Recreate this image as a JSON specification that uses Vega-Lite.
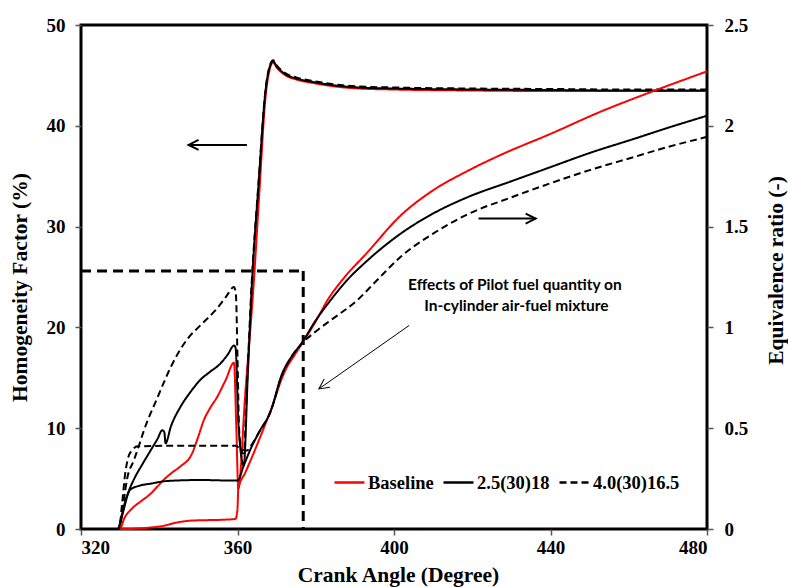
{
  "$schema": "https://vega.github.io/schema/vega-lite/v6.json",
  "width": 626,
  "height": 504,
  "autosize": {"type": "none"},
  "padding": {"left": 81, "top": 25, "right": 81, "bottom": 58},
  "background": "white",
  "config": {
    "view": {"stroke": "black", "strokeWidth": 3},
    "axis": {
      "grid": false, "domain": false,
      "labelFont": "Liberation Serif", "labelFontWeight": "bold", "labelFontSize": 19, "labelColor": "black",
      "titleFont": "Liberation Serif", "titleFontWeight": "bold", "titleFontSize": 21.5, "titleColor": "black",
      "tickColor": "#555", "tickSize": 6, "tickWidth": 1.5
    },
    "legend": {
      "orient": "none", "legendX": 252, "legendY": 441, "direction": "horizontal",
      "symbolType": "stroke", "symbolSize": 900, "symbolStrokeWidth": 2.5,
      "labelFont": "Liberation Serif", "labelFontWeight": "bold", "labelFontSize": 18.5, "labelColor": "black",
      "labelOffset": 2, "columnPadding": 4, "padding": 0
    }
  },
  "datasets": {
    "homog": [
      {"case":"Baseline","angle":320,"value":0},{"case":"Baseline","angle":329.5,"value":0},{"case":"Baseline","angle":330.1,"value":0.1},{"case":"Baseline","angle":331,"value":1},{"case":"Baseline","angle":333.1,"value":2.05},{"case":"Baseline","angle":335.5,"value":2.8},{"case":"Baseline","angle":337.8,"value":3.5},{"case":"Baseline","angle":339.5,"value":4.2},{"case":"Baseline","angle":341.2,"value":4.9},{"case":"Baseline","angle":343.3,"value":5.6},{"case":"Baseline","angle":345.4,"value":6.2},{"case":"Baseline","angle":348.4,"value":7.5},{"case":"Baseline","angle":350,"value":9.2},{"case":"Baseline","angle":351.4,"value":10.8},{"case":"Baseline","angle":353,"value":12},{"case":"Baseline","angle":354.8,"value":13.1},{"case":"Baseline","angle":357,"value":14.8},{"case":"Baseline","angle":359.1,"value":16.5},{"case":"Baseline","angle":359.7,"value":10},{"case":"Baseline","angle":360.2,"value":4.0},{"case":"Baseline","angle":362,"value":13.5},{"case":"Baseline","angle":364.2,"value":24.7},{"case":"Baseline","angle":365.6,"value":33.5},{"case":"Baseline","angle":367.2,"value":43},{"case":"Baseline","angle":368,"value":45.2},{"case":"Baseline","angle":369.1,"value":46.3},{"case":"Baseline","angle":370,"value":45.8},{"case":"Baseline","angle":372.3,"value":45.0},{"case":"Baseline","angle":375,"value":44.6},{"case":"Baseline","angle":380,"value":44.2},{"case":"Baseline","angle":385,"value":43.9},{"case":"Baseline","angle":391,"value":43.7},{"case":"Baseline","angle":400,"value":43.6},{"case":"Baseline","angle":420,"value":43.5},{"case":"Baseline","angle":440,"value":43.45},{"case":"Baseline","angle":460,"value":43.45},{"case":"Baseline","angle":480,"value":43.45},
      {"case":"2.5(30)18","angle":320,"value":0},{"case":"2.5(30)18","angle":329.4,"value":0},{"case":"2.5(30)18","angle":330.3,"value":1},{"case":"2.5(30)18","angle":330.9,"value":1.9},{"case":"2.5(30)18","angle":332,"value":3.5},{"case":"2.5(30)18","angle":333.5,"value":4.9},{"case":"2.5(30)18","angle":335.5,"value":6.3},{"case":"2.5(30)18","angle":337.8,"value":7.8},{"case":"2.5(30)18","angle":339.5,"value":8.9},{"case":"2.5(30)18","angle":340.8,"value":9.8},{"case":"2.5(30)18","angle":341.3,"value":9.6},{"case":"2.5(30)18","angle":341.6,"value":8.5},{"case":"2.5(30)18","angle":343,"value":10.2},{"case":"2.5(30)18","angle":345.4,"value":12.1},{"case":"2.5(30)18","angle":348,"value":13.6},{"case":"2.5(30)18","angle":350.5,"value":14.8},{"case":"2.5(30)18","angle":353,"value":15.6},{"case":"2.5(30)18","angle":355.6,"value":16.4},{"case":"2.5(30)18","angle":357.5,"value":17.3},{"case":"2.5(30)18","angle":359.1,"value":18.2},{"case":"2.5(30)18","angle":359.5,"value":18.0},{"case":"2.5(30)18","angle":360.3,"value":10},{"case":"2.5(30)18","angle":361.6,"value":6.3},{"case":"2.5(30)18","angle":362.6,"value":15},{"case":"2.5(30)18","angle":363.6,"value":23.7},{"case":"2.5(30)18","angle":365.4,"value":34.3},{"case":"2.5(30)18","angle":367.2,"value":43.6},{"case":"2.5(30)18","angle":368,"value":45.5},{"case":"2.5(30)18","angle":369.1,"value":46.4},{"case":"2.5(30)18","angle":370,"value":45.9},{"case":"2.5(30)18","angle":372.3,"value":45.1},{"case":"2.5(30)18","angle":375,"value":44.7},{"case":"2.5(30)18","angle":380,"value":44.3},{"case":"2.5(30)18","angle":385,"value":44},{"case":"2.5(30)18","angle":391,"value":43.8},{"case":"2.5(30)18","angle":400,"value":43.7},{"case":"2.5(30)18","angle":420,"value":43.6},{"case":"2.5(30)18","angle":440,"value":43.55},{"case":"2.5(30)18","angle":460,"value":43.5},{"case":"2.5(30)18","angle":480,"value":43.5},
      {"case":"4.0(30)16.5","angle":320,"value":0},{"case":"4.0(30)16.5","angle":329.5,"value":0},{"case":"4.0(30)16.5","angle":330.3,"value":1},{"case":"4.0(30)16.5","angle":331,"value":3},{"case":"4.0(30)16.5","angle":331.8,"value":5},{"case":"4.0(30)16.5","angle":333.5,"value":6.8},{"case":"4.0(30)16.5","angle":335,"value":8.5},{"case":"4.0(30)16.5","angle":336.1,"value":9.8},{"case":"4.0(30)16.5","angle":339.5,"value":13},{"case":"4.0(30)16.5","angle":343.5,"value":16.5},{"case":"4.0(30)16.5","angle":347.1,"value":18.8},{"case":"4.0(30)16.5","angle":350.5,"value":20.2},{"case":"4.0(30)16.5","angle":354.8,"value":21.9},{"case":"4.0(30)16.5","angle":357,"value":23},{"case":"4.0(30)16.5","angle":359.1,"value":24},{"case":"4.0(30)16.5","angle":359.6,"value":23.2},{"case":"4.0(30)16.5","angle":360,"value":17},{"case":"4.0(30)16.5","angle":360.4,"value":10},{"case":"4.0(30)16.5","angle":361,"value":7.8},{"case":"4.0(30)16.5","angle":361.6,"value":7.5},{"case":"4.0(30)16.5","angle":362.5,"value":15},{"case":"4.0(30)16.5","angle":363.5,"value":23.5},{"case":"4.0(30)16.5","angle":365.4,"value":34.5},{"case":"4.0(30)16.5","angle":367.2,"value":43.7},{"case":"4.0(30)16.5","angle":368,"value":45.6},{"case":"4.0(30)16.5","angle":369.1,"value":46.5},{"case":"4.0(30)16.5","angle":370,"value":46},{"case":"4.0(30)16.5","angle":372.3,"value":45.2},{"case":"4.0(30)16.5","angle":375,"value":44.8},{"case":"4.0(30)16.5","angle":380,"value":44.4},{"case":"4.0(30)16.5","angle":385,"value":44.1},{"case":"4.0(30)16.5","angle":391,"value":43.9},{"case":"4.0(30)16.5","angle":400,"value":43.8},{"case":"4.0(30)16.5","angle":420,"value":43.7},{"case":"4.0(30)16.5","angle":440,"value":43.65},{"case":"4.0(30)16.5","angle":460,"value":43.6},{"case":"4.0(30)16.5","angle":480,"value":43.6}
    ],
    "equiv": [
      {"case":"Baseline","angle":320,"value":0},{"case":"Baseline","angle":329.5,"value":0},{"case":"Baseline","angle":332,"value":0},{"case":"Baseline","angle":335,"value":0.003},{"case":"Baseline","angle":338,"value":0.008},{"case":"Baseline","angle":340.3,"value":0.013},{"case":"Baseline","angle":342,"value":0.02},{"case":"Baseline","angle":344,"value":0.03},{"case":"Baseline","angle":347.1,"value":0.04},{"case":"Baseline","angle":350,"value":0.043},{"case":"Baseline","angle":355,"value":0.045},{"case":"Baseline","angle":359.5,"value":0.05},{"case":"Baseline","angle":360,"value":0.1},{"case":"Baseline","angle":360.2,"value":0.2},{"case":"Baseline","angle":362,"value":0.28},{"case":"Baseline","angle":364,"value":0.37},{"case":"Baseline","angle":367.2,"value":0.525},{"case":"Baseline","angle":369,"value":0.615},{"case":"Baseline","angle":371,"value":0.73},{"case":"Baseline","angle":372.3,"value":0.79},{"case":"Baseline","angle":374.5,"value":0.86},{"case":"Baseline","angle":376.5,"value":0.92},{"case":"Baseline","angle":380,"value":1.03},{"case":"Baseline","angle":383,"value":1.135},{"case":"Baseline","angle":387.2,"value":1.245},{"case":"Baseline","angle":393.1,"value":1.37},{"case":"Baseline","angle":401.7,"value":1.555},{"case":"Baseline","angle":410,"value":1.68},{"case":"Baseline","angle":418.7,"value":1.775},{"case":"Baseline","angle":427.2,"value":1.855},{"case":"Baseline","angle":440,"value":1.96},{"case":"Baseline","angle":452.8,"value":2.07},{"case":"Baseline","angle":466,"value":2.17},{"case":"Baseline","angle":480,"value":2.27},
      {"case":"2.5(30)18","angle":320,"value":0},{"case":"2.5(30)18","angle":329.4,"value":0},{"case":"2.5(30)18","angle":330.5,"value":0.075},{"case":"2.5(30)18","angle":331.5,"value":0.15},{"case":"2.5(30)18","angle":332.6,"value":0.195},{"case":"2.5(30)18","angle":335,"value":0.215},{"case":"2.5(30)18","angle":337.8,"value":0.225},{"case":"2.5(30)18","angle":342,"value":0.238},{"case":"2.5(30)18","angle":350.5,"value":0.243},{"case":"2.5(30)18","angle":359.5,"value":0.24},{"case":"2.5(30)18","angle":360,"value":0.24},{"case":"2.5(30)18","angle":361.6,"value":0.315},{"case":"2.5(30)18","angle":363.3,"value":0.395},{"case":"2.5(30)18","angle":365.5,"value":0.48},{"case":"2.5(30)18","angle":368.4,"value":0.58},{"case":"2.5(30)18","angle":371.4,"value":0.77},{"case":"2.5(30)18","angle":374,"value":0.86},{"case":"2.5(30)18","angle":376.5,"value":0.925},{"case":"2.5(30)18","angle":380,"value":1.035},{"case":"2.5(30)18","angle":383.8,"value":1.135},{"case":"2.5(30)18","angle":387.8,"value":1.23},{"case":"2.5(30)18","angle":393.1,"value":1.33},{"case":"2.5(30)18","angle":401.7,"value":1.465},{"case":"2.5(30)18","angle":410,"value":1.565},{"case":"2.5(30)18","angle":418.7,"value":1.645},{"case":"2.5(30)18","angle":430,"value":1.725},{"case":"2.5(30)18","angle":440,"value":1.795},{"case":"2.5(30)18","angle":450,"value":1.865},{"case":"2.5(30)18","angle":461.3,"value":1.935},{"case":"2.5(30)18","angle":470,"value":1.99},{"case":"2.5(30)18","angle":480,"value":2.05},
      {"case":"4.0(30)16.5","angle":320,"value":0},{"case":"4.0(30)16.5","angle":329.7,"value":0},{"case":"4.0(30)16.5","angle":330.5,"value":0.125},{"case":"4.0(30)16.5","angle":331.3,"value":0.275},{"case":"4.0(30)16.5","angle":332,"value":0.35},{"case":"4.0(30)16.5","angle":333,"value":0.39},{"case":"4.0(30)16.5","angle":334.5,"value":0.41},{"case":"4.0(30)16.5","angle":345,"value":0.413},{"case":"4.0(30)16.5","angle":359.5,"value":0.413},{"case":"4.0(30)16.5","angle":361,"value":0.395},{"case":"4.0(30)16.5","angle":362.5,"value":0.39},{"case":"4.0(30)16.5","angle":363.5,"value":0.415},{"case":"4.0(30)16.5","angle":365.5,"value":0.48},{"case":"4.0(30)16.5","angle":368.4,"value":0.58},{"case":"4.0(30)16.5","angle":371.4,"value":0.765},{"case":"4.0(30)16.5","angle":374,"value":0.86},{"case":"4.0(30)16.5","angle":376.5,"value":0.92},{"case":"4.0(30)16.5","angle":380,"value":0.98},{"case":"4.0(30)16.5","angle":383.8,"value":1.035},{"case":"4.0(30)16.5","angle":390.6,"value":1.135},{"case":"4.0(30)16.5","angle":395.7,"value":1.235},{"case":"4.0(30)16.5","angle":401.7,"value":1.35},{"case":"4.0(30)16.5","angle":410,"value":1.465},{"case":"4.0(30)16.5","angle":418.7,"value":1.56},{"case":"4.0(30)16.5","angle":430,"value":1.645},{"case":"4.0(30)16.5","angle":440,"value":1.715},{"case":"4.0(30)16.5","angle":450,"value":1.78},{"case":"4.0(30)16.5","angle":461.3,"value":1.845},{"case":"4.0(30)16.5","angle":470,"value":1.895},{"case":"4.0(30)16.5","angle":480,"value":1.945}
    ]
  },
  "encoding": {
    "x": {
      "field": "angle", "type": "quantitative",
      "scale": {"domain": [320, 480], "nice": false, "zero": false},
      "axis": {"values": [320, 360, 400, 440, 480], "title": "Crank Angle (Degree)", "labelPadding": 3, "titleX": 317, "titleY": 52, "titleBaseline": "alphabetic", "titleAlign": "center"}
    }
  },
  "layer": [
    {
      "encoding": {
        "y": {
          "field": "value", "type": "quantitative",
          "scale": {"domain": [0, 50], "nice": false},
          "axis": {"orient": "left", "values": [0, 10, 20, 30, 40, 50], "title": "Homogeneity  Factor (%)", "labelPadding": 10, "titleAngle": 270, "titleX": -61, "titleY": 262, "titleAlign": "center", "titleBaseline": "middle"}
        }
      },
      "layer": [
        {
          "data": {"values": [{"angle": 320, "angle2": 376.8, "value": 25.6}]},
          "mark": {"type": "rule", "color": "black", "strokeWidth": 3, "strokeDash": [10, 6]},
          "encoding": {"x2": {"field": "angle2"}}
        },
        {
          "data": {"values": [{"angle": 376.8, "value": 25.6, "value2": 0}]},
          "mark": {"type": "rule", "color": "black", "strokeWidth": 3, "strokeDash": [10, 6]},
          "encoding": {"y2": {"field": "value2"}}
        },
        {
          "data": {"name": "homog"},
          "mark": {"type": "line", "strokeWidth": 2, "interpolate": "monotone"},
          "encoding": {
            "color": {"field": "case", "type": "nominal", "title": null, "scale": {"domain": ["Baseline", "2.5(30)18", "4.0(30)16.5"], "range": ["#ff0000", "#000000", "#000000"]}},
            "strokeDash": {"field": "case", "type": "nominal", "title": null, "scale": {"domain": ["Baseline", "2.5(30)18", "4.0(30)16.5"], "range": [[1, 0], [1, 0], [7, 4]]}}
          }
        },
        {
          "data": {"values": [{"angle": 362.4, "value": 38.1, "angle2": 347.5, "value2": 38.1}, {"angle": 421.6, "value": 30.8, "angle2": 436.2, "value2": 30.8}]},
          "mark": {"type": "rule", "color": "black", "strokeWidth": 2},
          "encoding": {"x2": {"field": "angle2"}, "y2": {"field": "value2"}}
        },
        {
          "data": {"values": [{"angle": 403.9, "value": 20.2, "angle2": 380.8, "value2": 13.9}]},
          "mark": {"type": "rule", "color": "black", "strokeWidth": 1},
          "encoding": {"x2": {"field": "angle2"}, "y2": {"field": "value2"}}
        },
        {
          "data": {"values": [{"angle": 347.5, "value": 38.1}]},
          "mark": {"type": "point", "shape": "M2,-1L0,0L2,1", "size": 100, "filled": false, "stroke": "black", "strokeWidth": 2, "angle": 0, "opacity": 1}
        },
        {
          "data": {"values": [{"angle": 436.2, "value": 30.8}]},
          "mark": {"type": "point", "shape": "M2,-1L0,0L2,1", "size": 100, "filled": false, "stroke": "black", "strokeWidth": 2, "angle": 180, "opacity": 1}
        },
        {
          "data": {"values": [{"angle": 380.8, "value": 13.9}]},
          "mark": {"type": "point", "shape": "M2,-1L0,0L2,1", "size": 100, "filled": false, "stroke": "black", "strokeWidth": 1, "angle": -35, "opacity": 1}
        },
        {
          "data": {"values": [{"angle": 430.9, "value": 24.2, "label": "Effects of Pilot fuel quantity  on"}, {"angle": 431.3, "value": 22.1, "label": "In-cylinder air-fuel mixture"}]},
          "mark": {"type": "text", "font": "Lato", "fontWeight": "bold", "fontSize": 15.5, "color": "black", "align": "center", "baseline": "middle"},
          "encoding": {"text": {"field": "label"}}
        }
      ]
    },
    {
      "data": {"name": "equiv"},
      "mark": {"type": "line", "strokeWidth": 2, "interpolate": "monotone"},
      "encoding": {
        "y": {
          "field": "value", "type": "quantitative",
          "scale": {"domain": [0, 2.5], "nice": false},
          "axis": {"orient": "right", "values": [0, 0.5, 1, 1.5, 2, 2.5], "labelExpr": "'' + datum.value", "title": "Equivalence ratio (-)", "labelPadding": 11, "titleAngle": 270, "titleX": 69, "titleY": 245, "titleAlign": "center", "titleBaseline": "middle"}
        },
        "color": {"field": "case", "type": "nominal", "title": null, "scale": {"domain": ["Baseline", "2.5(30)18", "4.0(30)16.5"], "range": ["#ff0000", "#000000", "#000000"]}},
        "strokeDash": {"field": "case", "type": "nominal", "title": null, "scale": {"domain": ["Baseline", "2.5(30)18", "4.0(30)16.5"], "range": [[1, 0], [1, 0], [7, 4]]}}
      }
    }
  ],
  "resolve": {"scale": {"y": "independent"}}
}
